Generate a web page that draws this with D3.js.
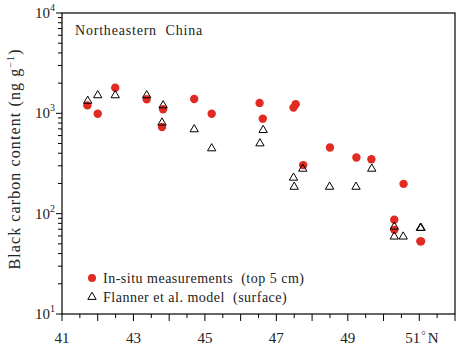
<!DOCTYPE html>
<html>
<head>
<meta charset="utf-8">
<script src="https://cdn.jsdelivr.net/npm/d3@7"></script>
<style>
  body { margin: 0; background: #fff; }
  svg text { font-family: "Liberation Serif", "DejaVu Serif", serif; fill: #222; }
</style>
</head>
<body>
<div id="chart"></div>
<script>
// in-situ measurements (top 5 cm)
const insituLat = [41.71, 42.0, 42.49, 43.37, 43.83, 43.80, 44.70, 45.19, 46.53, 46.62, 47.48, 47.54,
    47.75, 48.50, 49.24, 49.66, 50.56, 50.30, 50.30, 51.03, 51.05];
const insituBC = [1200, 990, 1800, 1380, 1100, 730, 1390, 990, 1270, 885, 1140, 1230,
    305, 457, 363, 349, 198, 87, 69, 53, 53];

// Flanner et al. model (surface)
const modelLat = [41.72, 42.0, 42.49, 43.37, 43.83, 43.80, 44.70, 45.19, 46.54, 46.63, 47.48, 47.50,
    47.74, 48.49, 49.23, 49.67, 50.30, 50.30, 50.55, 51.03, 51.05];
const modelBC = [1330, 1510, 1510, 1510, 1200, 807, 692, 447, 501, 681, 228, 185,
    280, 185, 185, 280, 74, 59, 59, 72, 72];

const xTicks = [41, 43, 45, 47, 49, 51];
const yTicks = [10, 100, 1000, 10000];

const margin = { top: 13, right: 10, bottom: 37, left: 62 };
const width = 465, height = 351;
const w = width - margin.left - margin.right;
const h = height - margin.top - margin.bottom;

const svg = d3.select('#chart').append('svg')
    .attr('width', width)
    .attr('height', height);
const g = svg.append('g').attr('transform', `translate(${margin.left},${margin.top})`);

const x = d3.scaleLinear().domain([41, 52]).range([0, w]);
const y = d3.scaleLog().domain([10, 10000]).range([h, 0]);

// frame
g.append('rect')
    .attr('width', w).attr('height', h)
    .attr('fill', 'none').attr('stroke', '#000').attr('stroke-width', 1.2);

// x ticks: major on integers, minor on halves
const xAll = d3.range(41, 52.01, 0.5);
g.append('g').selectAll('line').data(xAll).join('line')
    .attr('x1', d => x(d)).attr('x2', d => x(d))
    .attr('y1', h).attr('y2', d => h + (d % 1 === 0 ? 7 : 4))
    .attr('stroke', '#000').attr('stroke-width', 1);

g.append('g').selectAll('text').data(xTicks).join('text')
    .attr('x', d => d === 51 ? x(d) + 1 : x(d))
    .attr('y', h + 29)
    .attr('text-anchor', d => d === 51 ? 'end' : 'middle')
    .attr('font-size', 15)
    .text(d => d);
g.append('text')
    .attr('x', x(51) + 2).attr('y', h + 29)
    .attr('font-size', 15)
    .call(t => {
        t.append('tspan').attr('font-size', 11).attr('dy', -4).text('°');
        t.append('tspan').attr('dy', 4).attr('dx', 2).text('N');
    });

// y ticks: decades + minor 2..9
const yMinor = [];
[10, 100, 1000].forEach(dec => d3.range(2, 10).forEach(k => yMinor.push(dec * k)));
g.append('g').selectAll('line').data(yTicks.concat(yMinor)).join('line')
    .attr('x1', 0).attr('x2', d => yTicks.includes(d) ? -6 : -4)
    .attr('y1', d => y(d)).attr('y2', d => y(d))
    .attr('stroke', '#000').attr('stroke-width', 1);

const yl = g.append('g').selectAll('text').data(yTicks).join('text')
    .attr('x', -7).attr('y', d => y(d) + 5)
    .attr('text-anchor', 'end')
    .attr('font-size', 15);
yl.append('tspan').text('10');
yl.append('tspan').attr('font-size', 10).attr('dy', -7).text(d => Math.round(Math.log10(d)));

// axis title
svg.append('text')
    .attr('transform', `translate(20,${margin.top + 146}) rotate(-90)`)
    .attr('text-anchor', 'middle')
    .attr('font-size', 16)
    .attr('letter-spacing', 1.1)
    .call(t => {
        t.append('tspan').text('Black carbon content (ng g');
        t.append('tspan').attr('font-size', 10).attr('dy', -6).text('−1');
        t.append('tspan').attr('dy', 6).text(')');
    });

// region label
g.append('text')
    .attr('x', 13).attr('y', 22)
    .attr('font-size', 14)
    .attr('letter-spacing', 0.8)
    .style('white-space', 'pre')
    .text('Northeastern  China');

const red = '#e02a22';

// data
g.append('g').selectAll('circle').data(insituLat).join('circle')
    .attr('cx', d => x(d))
    .attr('cy', (d, i) => y(insituBC[i]))
    .attr('r', 4.2)
    .attr('fill', red);

const tri = d3.symbol().type(d3.symbolTriangle).size(30);
g.append('g').selectAll('path').data(modelLat).join('path')
    .attr('transform', (d, i) => `translate(${x(d)},${y(modelBC[i])})`)
    .attr('d', tri)
    .attr('fill', 'none')
    .attr('stroke', '#000')
    .attr('stroke-width', 1);

// legend
const legend = g.append('g').attr('transform', 'translate(30,265)');
legend.append('circle').attr('cx', 0).attr('cy', 0).attr('r', 4).attr('fill', red);
legend.append('text').attr('x', 11).attr('y', 4.5).attr('font-size', 14).attr('letter-spacing', 0.5)
    .style('white-space', 'pre').text('In-situ measurements  (top 5 cm)');
legend.append('path').attr('transform', 'translate(0,19)').attr('d', tri)
    .attr('fill', 'none').attr('stroke', '#000').attr('stroke-width', 1);
legend.append('text').attr('x', 11).attr('y', 23.5).attr('font-size', 14).attr('letter-spacing', 0.5)
    .style('white-space', 'pre').text('Flanner et al. model  (surface)');
</script>
</body>
</html>
